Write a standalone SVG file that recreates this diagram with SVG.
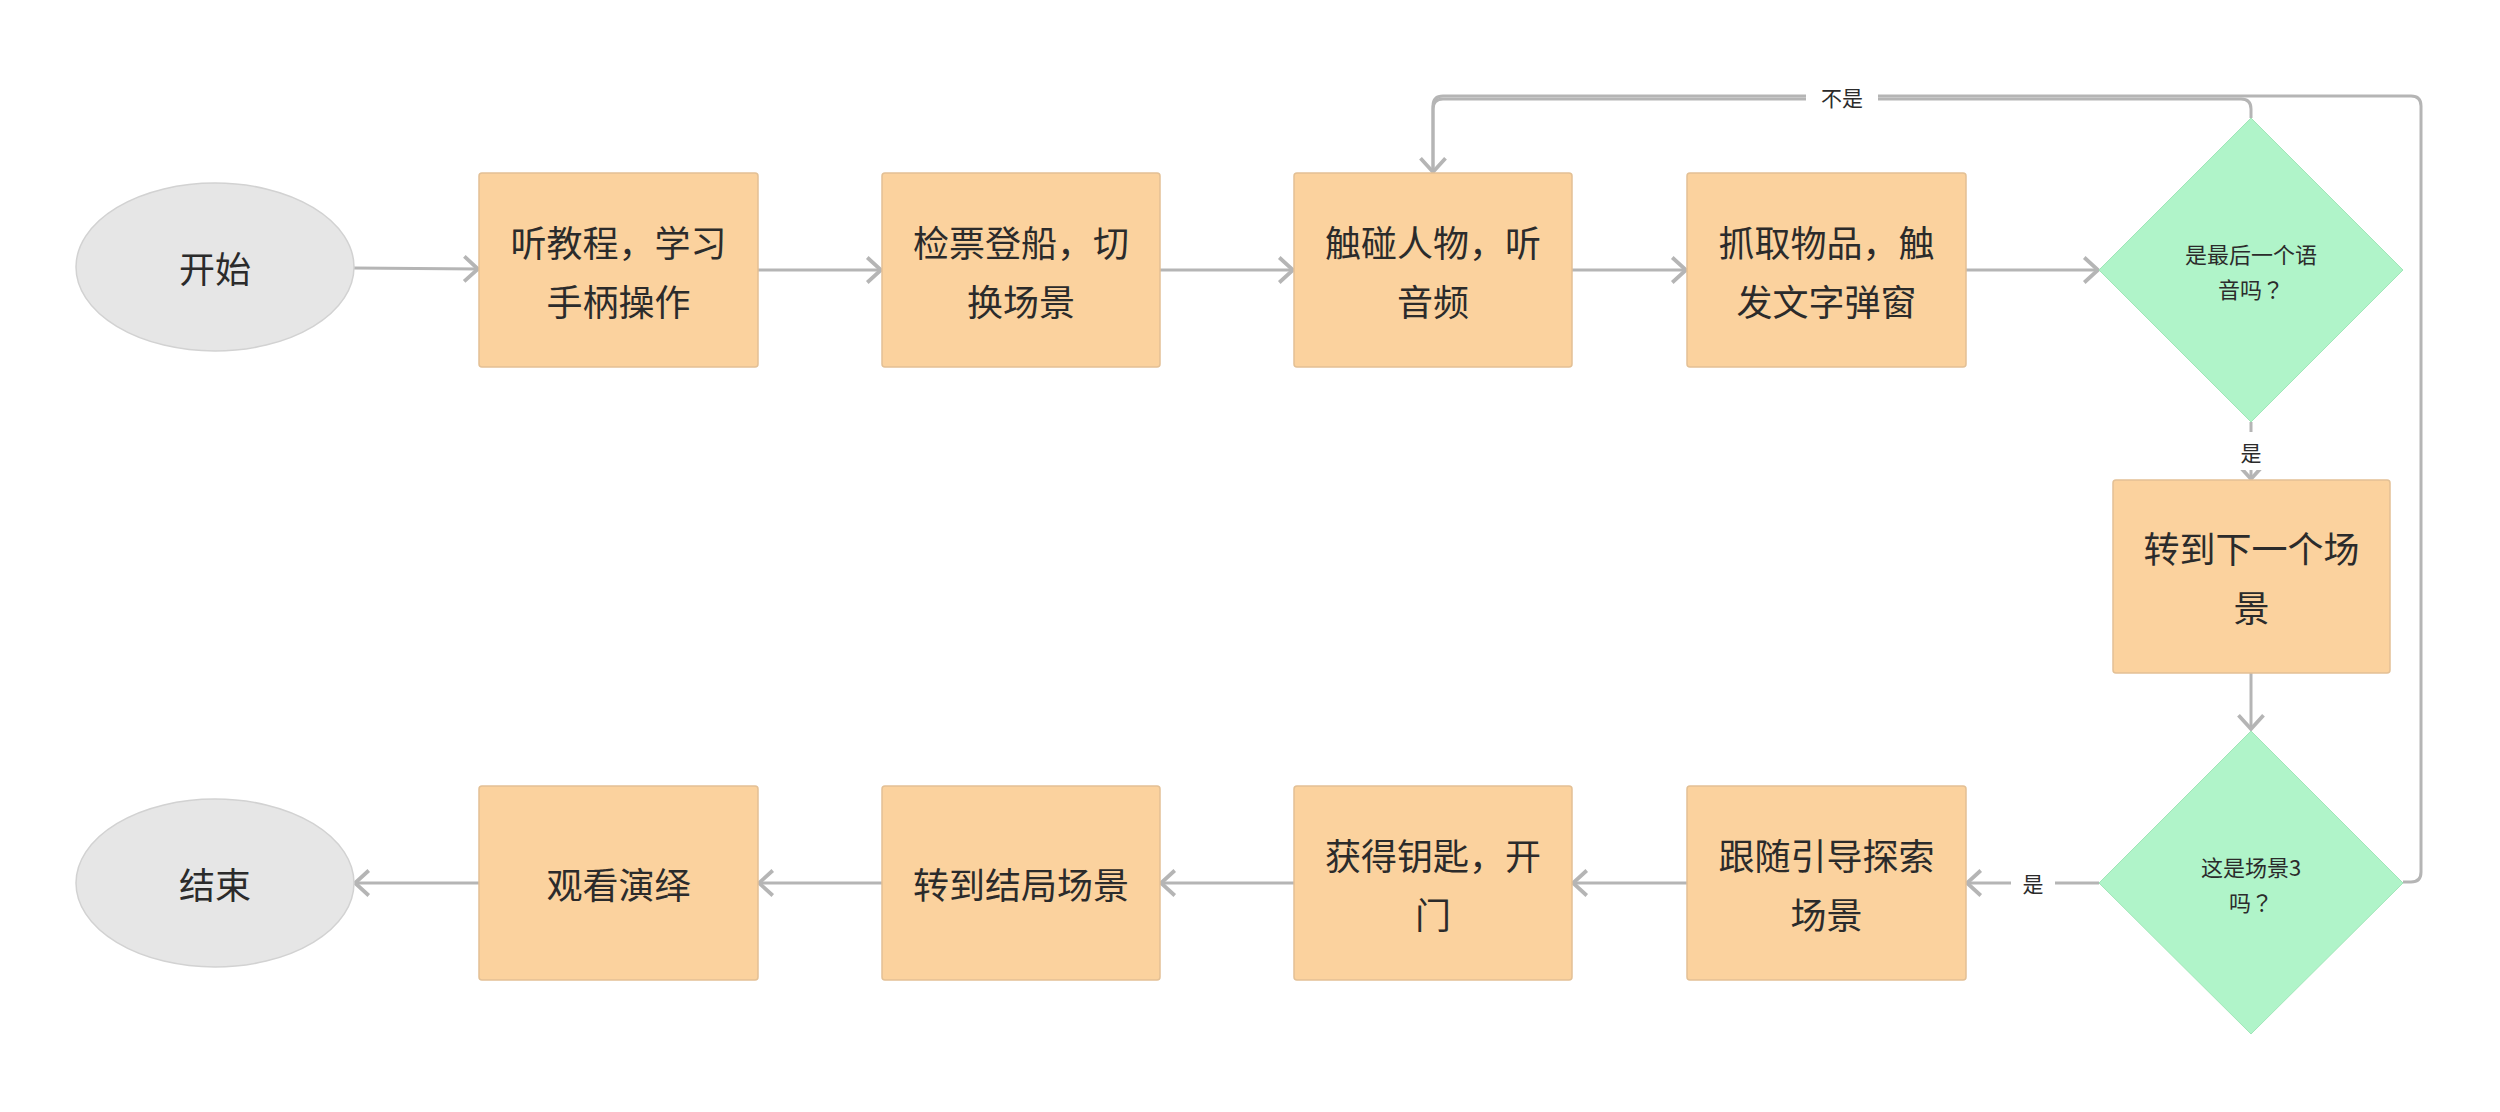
<svg xmlns="http://www.w3.org/2000/svg" width="2500" height="1112" viewBox="0 0 2500 1112">
<style>
.box{fill:#FBD29E;stroke:#E3C095;stroke-width:1.5}
.dia{fill:#B0F4C9;stroke:#A0E6B8;stroke-width:1}
.ell{fill:#E6E6E6;stroke:#D2D2D2;stroke-width:1.5}
.t{font-family:"Noto Sans CJK SC","Noto Sans",sans-serif;fill:#2B2B2B;text-anchor:middle;dominant-baseline:central}
.big{font-size:36px}
.sm{font-size:22px}
.lbl{font-size:21px}
.q{font-family:"Noto Sans CJK TC",sans-serif}
.c{fill:none;stroke:#B5B5B5;stroke-width:3}
</style>
<defs>
<marker id="ah" markerUnits="userSpaceOnUse" markerWidth="30" markerHeight="30" viewBox="-16 -12 20 24" refX="0" refY="0" orient="auto">
<path d="M-11,-10 L0,0 L-11,10" fill="none" stroke="#B5B5B5" stroke-width="3"/>
</marker>
</defs>
<rect width="2500" height="1112" fill="#FFFFFF"/>
<g id="connectors">
<path class="c" d="M354,268 L478,269" marker-end="url(#ah)"/>
<path class="c" d="M758,270 L881,270" marker-end="url(#ah)"/>
<path class="c" d="M1160,270 L1293,270" marker-end="url(#ah)"/>
<path class="c" d="M1572,270 L1686,270" marker-end="url(#ah)"/>
<path class="c" d="M1966,270 L2098,270" marker-end="url(#ah)"/>
<path class="c" d="M2251,118 V109 Q2251,99 2241,99 H1443 Q1433,99 1433,109 V172" marker-end="url(#ah)"/>
<path class="c" d="M2403,882 H2411 Q2421,882 2421,872 V106 Q2421,96 2411,96 H1443 Q1433,96 1433,106 V172"/>
<rect x="1806" y="84" width="72" height="26" fill="#FFFFFF"/>
<text class="t lbl" x="1842" y="97">不是</text>
<path class="c" d="M2251,422 V479" marker-end="url(#ah)"/>
<rect x="2236" y="432" width="30" height="38" fill="#FFFFFF"/>
<text class="t lbl" x="2251" y="452">是</text>
<path class="c" d="M2251,673 V729" marker-end="url(#ah)"/>
<path class="c" d="M2099,883 H1967" marker-end="url(#ah)"/>
<rect x="2011" y="868" width="44" height="30" fill="#FFFFFF"/>
<text class="t lbl" x="2033" y="883">是</text>
<path class="c" d="M1687,883 H1573" marker-end="url(#ah)"/>
<path class="c" d="M1294,883 H1161" marker-end="url(#ah)"/>
<path class="c" d="M882,883 H759" marker-end="url(#ah)"/>
<path class="c" d="M479,883 H355" marker-end="url(#ah)"/>
</g>
<g id="start">
<ellipse class="ell" cx="215" cy="267" rx="139" ry="84"/>
<text class="t big" x="215" y="267">开始</text>
</g>
<g id="n1">
<rect class="box" x="479" y="173" width="279" height="194" rx="3"/>
<text class="t big" x="618.5" y="241">听教程，学习</text>
<text class="t big" x="618.5" y="300">手柄操作</text>
</g>
<g id="n2">
<rect class="box" x="882" y="173" width="278" height="194" rx="3"/>
<text class="t big" x="1021" y="241">检票登船，切</text>
<text class="t big" x="1021" y="300">换场景</text>
</g>
<g id="n3">
<rect class="box" x="1294" y="173" width="278" height="194" rx="3"/>
<text class="t big" x="1433" y="241">触碰人物，听</text>
<text class="t big" x="1433" y="300">音频</text>
</g>
<g id="n4">
<rect class="box" x="1687" y="173" width="279" height="194" rx="3"/>
<text class="t big" x="1826.5" y="241">抓取物品，触</text>
<text class="t big" x="1826.5" y="300">发文字弹窗</text>
</g>
<g id="d1">
<polygon class="dia" points="2251,118 2403,270 2251,422 2099,270"/>
<text class="t sm" x="2251" y="253">是最后一个语</text>
<text class="t sm" x="2251" y="288">音吗<tspan class="q">？</tspan></text>
</g>
<g id="n5">
<rect class="box" x="2113" y="480" width="277" height="193" rx="3"/>
<text class="t big" x="2251.5" y="547">转到下一个场</text>
<text class="t big" x="2251.5" y="606">景</text>
</g>
<g id="d2">
<polygon class="dia" points="2251,731 2403,883 2251,1034 2099,883"/>
<text class="t sm" x="2251" y="866">这是场景3</text>
<text class="t sm" x="2251" y="901">吗<tspan class="q">？</tspan></text>
</g>
<g id="n6">
<rect class="box" x="1687" y="786" width="279" height="194" rx="3"/>
<text class="t big" x="1826.5" y="854">跟随引导探索</text>
<text class="t big" x="1826.5" y="913">场景</text>
</g>
<g id="n7">
<rect class="box" x="1294" y="786" width="278" height="194" rx="3"/>
<text class="t big" x="1433" y="854">获得钥匙，开</text>
<text class="t big" x="1433" y="913">门</text>
</g>
<g id="n8">
<rect class="box" x="882" y="786" width="278" height="194" rx="3"/>
<text class="t big" x="1021" y="883">转到结局场景</text>
</g>
<g id="n9">
<rect class="box" x="479" y="786" width="279" height="194" rx="3"/>
<text class="t big" x="618.5" y="883">观看演绎</text>
</g>
<g id="end">
<ellipse class="ell" cx="215" cy="883" rx="139" ry="84"/>
<text class="t big" x="215" y="883">结束</text>
</g>
</svg>
